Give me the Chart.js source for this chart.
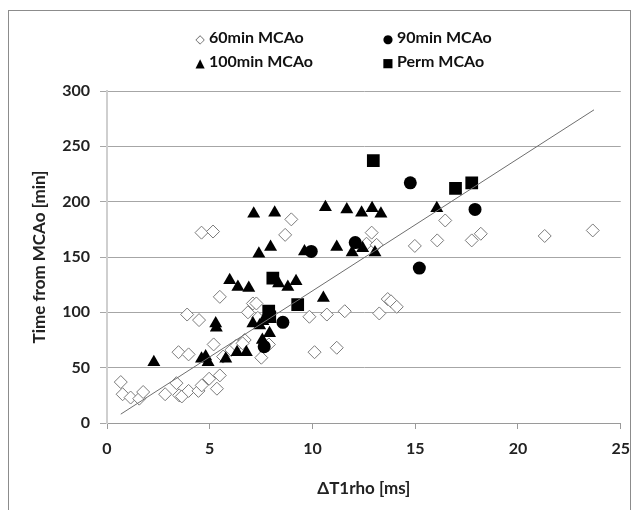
<!DOCTYPE html>
<html>
<head>
<meta charset="utf-8">
<script src="https://cdn.jsdelivr.net/npm/chart.js@4"></script>
<style>
  html, body { margin: 0; padding: 0; background: #fff; overflow: hidden; }
  #wrap { position: relative; width: 640px; height: 510px; }
  #frame { position: absolute; left: 8px; top: 10px; width: 623px; height: 520px; border: 1px solid #8c8c8c; box-sizing: border-box; }
  #legend { position: absolute; left: 0; top: 0; font: bold 16px Lato, sans-serif; color: #111; }
  .item { position: absolute; white-space: nowrap; line-height: 18px; }
  .mk { font-family: "DejaVu Sans", sans-serif; font-size: 12px; display: inline-block; width: 12px; margin-right: 3px; text-align: center; }
  canvas { position: absolute; left: 0; top: 0; }
</style>
</head>
<body>
<div id="wrap">
  <div id="frame"></div>
  <canvas id="chart" width="640" height="510"></canvas>
  <div id="legend"></div>
</div>
<script>
// 60min MCAo (open diamonds)
const min60X = [0.67, 0.76, 1.15, 1.57, 1.76, 2.83, 3.38, 3.51, 3.64, 3.97, 4.45, 4.61, 4.97, 5.35, 5.49,
  3.48, 3.97, 5.19, 5.65, 6.05, 6.3, 6.7, 6.6, 6.86, 7.1, 7.27, 7.34, 7.51, 7.88,
  5.49, 3.9, 4.48,
  9.85, 10.1, 10.7, 11.18, 11.57, 13.25, 13.66, 13.82, 14.1,
  4.6, 5.16, 8.97, 8.67, 12.88, 12.63, 13.12, 14.98, 16.07, 16.46, 17.75, 18.19, 21.3, 23.64];
const min60Y = [37, 26, 23, 22, 28, 26, 36, 25, 24, 29, 29, 34, 40, 31, 43,
  64, 62, 71, 60, 66, 70, 75, 72, 100, 108, 108, 95, 59, 71,
  114, 98, 93,
  96, 64, 98, 68, 101, 99, 112, 110, 105,
  172, 173, 184, 170, 172, 162, 161, 160, 165, 183, 165, 171, 169, 174];

// 90min MCAo (filled circles)
const min90X = [7.65, 8.56, 9.94, 12.08, 14.76, 15.2, 17.91];
const min90Y = [69, 91, 155, 163, 217, 140, 193];

// 100min MCAo (filled triangles)
const min100X = [2.28, 4.6, 4.8, 4.92, 5.29, 5.32, 5.78, 5.97, 6.37, 6.33, 6.78, 6.9, 7.1, 7.43, 7.39, 7.14,
  7.56, 7.59, 7.91, 7.96, 8.16, 8.35, 8.8, 9.2, 9.61, 10.53, 10.63, 11.18, 11.67, 11.93, 12.39, 12.44,
  12.9, 13.04, 13.33, 16.05];
const min100Y = [55, 58, 60, 55, 90, 86, 58, 129, 123, 64, 64, 122, 90, 88, 153, 189,
  75, 92, 81, 159, 190, 126, 123, 128, 155, 113, 195, 159, 193, 154, 190, 158,
  194, 154, 189, 194];

// Perm MCAo (filled squares)
const permX = [7.87, 7.92, 8.07, 9.28, 12.96, 16.96, 17.75];
const permY = [101, 96, 131, 107, 237, 212, 217];

// linear trend line end points
const trendX = [0.67, 23.7];
const trendY = [8, 283];

const xTicks = [0, 5, 10, 15, 20, 25];
const yTicks = [0, 50, 100, 150, 200, 250, 300];

const pts = (xs, ys) => xs.map((x, i) => ({ x: x, y: ys[i] }));

const tickFont = { family: "Lato, sans-serif", size: 16, weight: "bold" };
const titleFont = { family: "Lato, sans-serif", size: 17, weight: "bold" };

new Chart(document.getElementById("chart"), {
  type: "scatter",
  data: {
    datasets: [
      {
        label: "60min MCAo",
        data: pts(min60X, min60Y),
        pointStyle: "rectRot",
        pointRadius: 6.5,
        backgroundColor: "#ffffff",
        borderColor: "#7a7a7a",
        borderWidth: 1,
        order: 4,
      },
      {
        label: "90min MCAo",
        data: pts(min90X, min90Y),
        pointStyle: "circle",
        pointRadius: 6.5,
        backgroundColor: "#000000",
        borderColor: "#000000",
        borderWidth: 0,
        order: 3,
      },
      {
        label: "100min MCAo",
        data: pts(min100X, min100Y),
        pointStyle: "triangle",
        pointRadius: 7.5,
        backgroundColor: "#000000",
        borderColor: "#000000",
        borderWidth: 0,
        order: 2,
      },
      {
        label: "Perm MCAo",
        data: pts(permX, permY),
        pointStyle: "rect",
        pointRadius: 9,
        backgroundColor: "#000000",
        borderColor: "#000000",
        borderWidth: 0,
        order: 1,
      },
      {
        label: "trend",
        type: "line",
        data: pts(trendX, trendY),
        borderColor: "#6e6e6e",
        borderWidth: 1,
        pointRadius: 0,
        fill: false,
        order: 0,
      },
    ],
  },
  options: {
    responsive: false,
    animation: false,
    layout: { padding: { top: 91, right: 18, left: 0, bottom: 0 } },
    plugins: {
      legend: { display: false },
      tooltip: { enabled: false },
    },
    scales: {
      x: {
        type: "linear",
        min: 0,
        max: 25,
        afterBuildTicks: (s) => { s.ticks = xTicks.map((v) => ({ value: v })); },
        afterFit: (s) => { s.height = 87; },
        ticks: { font: tickFont, color: "#222", padding: 10 },
        grid: { color: "rgba(0,0,0,0)", tickColor: "#9a9a9a", tickLength: 6 },
        border: { color: "#9a9a9a", width: 1 },
        title: { display: true, text: "ΔT1rho [ms]", font: titleFont, color: "#222", padding: { top: 0, bottom: 11 } },
      },
      y: {
        min: 0,
        max: 300,
        afterBuildTicks: (s) => { s.ticks = yTicks.map((v) => ({ value: v })); },
        afterFit: (s) => { s.width = 107; },
        ticks: { font: tickFont, color: "#222", padding: 10 },
        grid: { color: "#a6a6a6", tickColor: "#a6a6a6", tickLength: 7 },
        border: { color: "#cfcfcf", width: 2 },
        title: { display: true, text: "Time from MCAo [min]", font: titleFont, color: "#222", padding: { top: 29, bottom: 0 } },
      },
    },
  },
});

// legend laid out in two columns like the original
const legendItems = [
  { mark: "◇", text: "60min MCAo", left: 194, top: 28, color: "#666" },
  { mark: "●", text: "90min MCAo", left: 382, top: 28, color: "#000" },
  { mark: "▲", text: "100min MCAo", left: 194, top: 52, color: "#000" },
  { mark: "■", text: "Perm MCAo", left: 382, top: 52, color: "#000" },
];
const legend = document.getElementById("legend");
legendItems.forEach((it) => {
  const d = document.createElement("div");
  d.className = "item";
  d.style.left = it.left + "px";
  d.style.top = it.top + "px";
  const m = document.createElement("span");
  m.className = "mk";
  m.style.color = it.color;
  m.textContent = it.mark;
  d.appendChild(m);
  d.appendChild(document.createTextNode(it.text));
  legend.appendChild(d);
});
</script>
</body>
</html>
